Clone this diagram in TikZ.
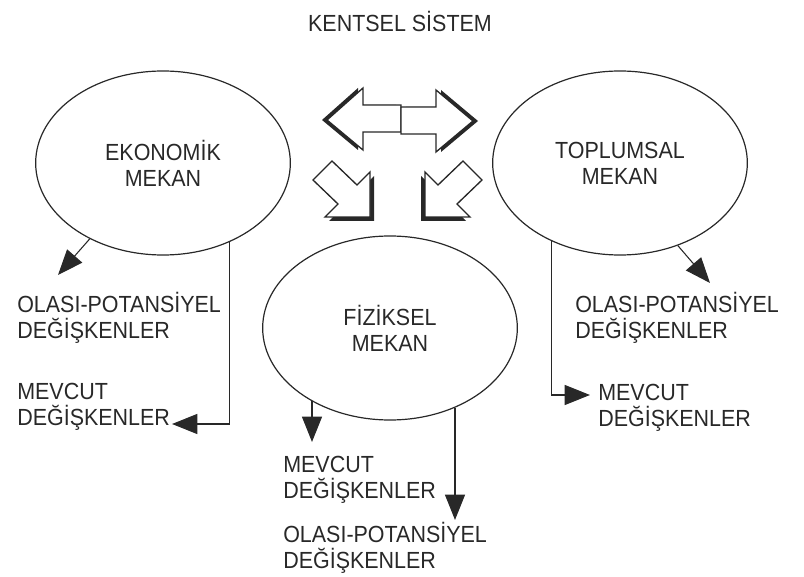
\documentclass[tikz,border=0pt]{standalone}
\usepackage{fontspec}
\setmainfont[FakeStretch=0.92]{Liberation Sans}
\usetikzlibrary{shapes.geometric,arrows.meta}
\definecolor{murekkep}{RGB}{40,40,40}
\newcommand{\yazi}{\fontsize{17.5}{19.5}\selectfont}
\tikzset{
  mekan/.style={draw=murekkep,ellipse,line width=0.9pt,minimum width=191pt,
    minimum height=138pt,inner sep=0pt,align=center,font=\yazi,text=murekkep},
  etiket/.style={anchor=west,align=left,inner sep=0pt,font=\yazi,text=murekkep},
  ok/.style={draw=murekkep,line width=0.8pt,-{Triangle[length=19pt,width=15pt]}},
  blok/.style={fill=white,draw=murekkep,line width=1pt},
  golge/.style={fill=murekkep}
}
\begin{document}
\begin{tikzpicture}[x=0.75pt,y=-0.75pt]
\useasboundingbox (0,0) rectangle (804,577);
\node[font=\yazi,text=murekkep] (baslik) at (400,21) {KENTSEL SİSTEM};
% mekanlar
\node[mekan] (eko) at (163,163) {EKONOMİK\\MEKAN};
\node[mekan] (top) at (620,163) {TOPLUMSAL\\MEKAN};
\node[mekan] (fiz) at (390,328) {FİZİKSEL\\MEKAN};
% degiskenler
\node[etiket] (ekoolasi) at (17,318) {OLASI-POTANSİYEL\\DEĞİŞKENLER};
\node[etiket] (ekomevcut) at (17,407) {MEVCUT\\DEĞİŞKENLER};
\node[etiket] (topolasi) at (575,318) {OLASI-POTANSİYEL\\DEĞİŞKENLER};
\node[etiket] (topmevcut) at (598,408) {MEVCUT\\DEĞİŞKENLER};
\node[etiket] (fizmevcut) at (283,480) {MEVCUT\\DEĞİŞKENLER};
\node[etiket] (fizolasi) at (283,548) {OLASI-POTANSİYEL\\DEĞİŞKENLER};
% ok uclari
\coordinate (eoucu) at (58,275);
\coordinate (emucu) at (172,424);
\coordinate (toucu) at (710,283);
\coordinate (tmucu) at (590,395);
\coordinate (fmucu) at (312,442);
\coordinate (foucu) at (455,520);
\draw[ok] (eko.-134) -- (eoucu);
\draw[ok] (eko.-50.5) |- (emucu);
\draw[ok] (top.-55) -- (toucu);
\draw[ok] (top.-131) |- (tmucu);
\draw[ok] (fmucu |- fiz.-137) -- (fmucu);
\draw[ok] (foucu |- fiz.-51) -- (foucu);
% blok oklar
\fill[golge,shift={(-5,0)}] (327,120) -- (363,88) -- (363,105) -- (401,105)
  -- (401,132) -- (363,132) -- (363,150) -- cycle;
\filldraw[blok] (327,120) -- (363,88) -- (363,105) -- (401,105)
  -- (401,132) -- (363,132) -- (363,150) -- cycle;
\fill[golge,shift={(5,0)}] (473,121) -- (436,90) -- (436,107) -- (401,107)
  -- (401,134) -- (436,134) -- (436,152) -- cycle;
\filldraw[blok] (473,121) -- (436,90) -- (436,107) -- (401,107)
  -- (401,134) -- (436,134) -- (436,152) -- cycle;
\fill[golge,shift={(4,4)}] (332,161) -- (313,180) -- (338,204) -- (325,217)
  -- (370,217) -- (370,172) -- (357,185) -- cycle;
\filldraw[blok] (332,161) -- (313,180) -- (338,204) -- (325,217)
  -- (370,217) -- (370,172) -- (357,185) -- cycle;
\fill[golge,shift={(-4,4)}] (463,161) -- (482,180) -- (457,204) -- (470,217)
  -- (425,217) -- (425,172) -- (438,185) -- cycle;
\filldraw[blok] (463,161) -- (482,180) -- (457,204) -- (470,217)
  -- (425,217) -- (425,172) -- (438,185) -- cycle;
\end{tikzpicture}
\end{document}
